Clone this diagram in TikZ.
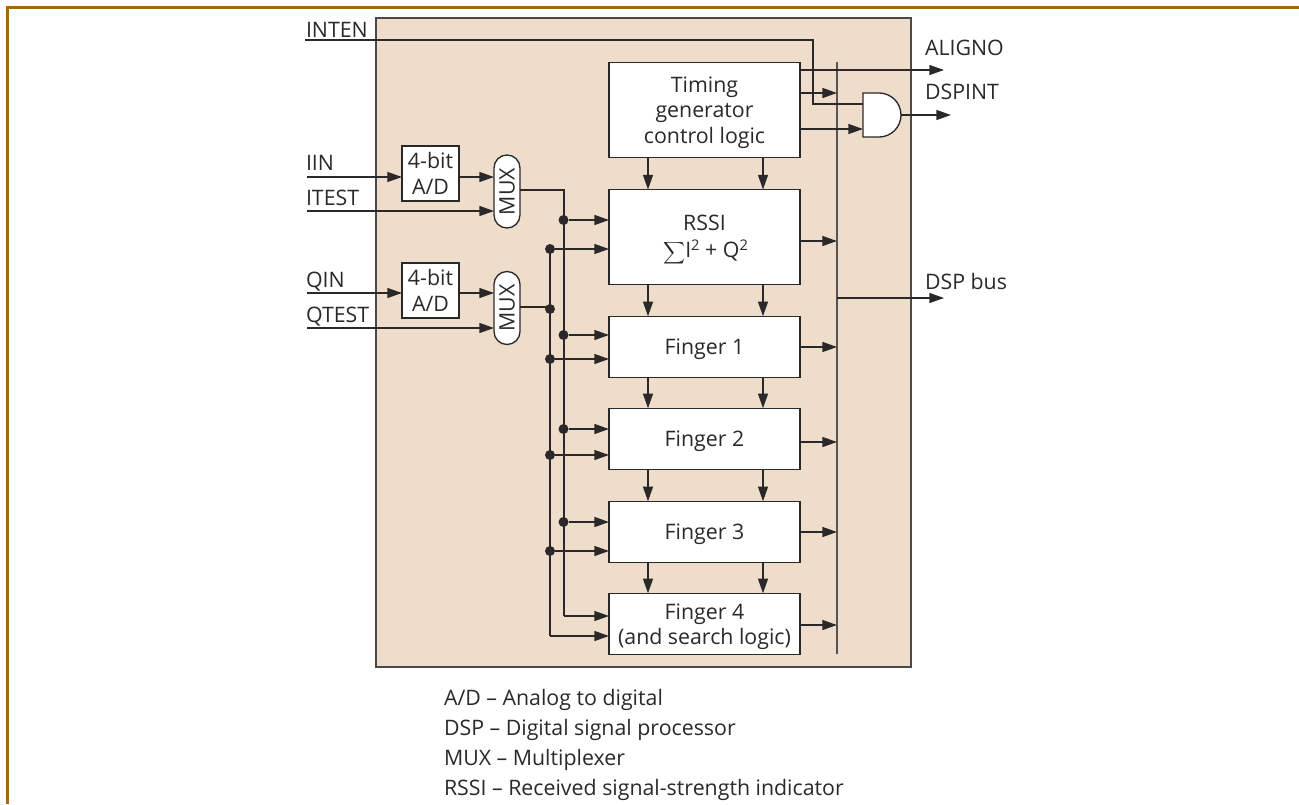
\documentclass[tikz,border=0pt]{standalone}
\usepackage{fontspec}
\setmainfont{Open Sans}
\usetikzlibrary{arrows.meta}
\definecolor{panelfill}{HTML}{EFDDCC}
\definecolor{rulebrown}{HTML}{A9660F}
\definecolor{ink}{HTML}{2B2829}
\newcommand{\supsq}{\raisebox{5pt}{\fontsize{11}{11}\selectfont 2}}
\tikzset{
  x=0.75pt,y=-0.75pt,
  every node/.style={font=\fontsize{16}{18}\selectfont,text=ink,inner sep=0pt,outer sep=0pt},
  wire/.style={draw=ink,line width=1pt},
  arr/.style={wire,-{Triangle[length=11pt,width=7.5pt]},shorten >=0pt},
  block/.style={draw=ink,line width=1pt,fill=white,align=center,minimum width=191*0.75pt},
  blocklabel/.style={align=center,yshift=-1.9pt},
  adc/.style={draw=ink,line width=1pt,fill=white,align=center,minimum width=57*0.75pt,minimum height=55*0.75pt},
  muxbox/.style={draw=ink,line width=1pt,fill=white,minimum width=26*0.75pt,minimum height=73*0.75pt,rounded corners=9.7pt},
  jdot/.style={circle,fill=ink,minimum size=7.5pt},
  sig/.style={anchor=base west},
  legend/.style={anchor=base west},
}
\begin{document}
\begin{tikzpicture}
\useasboundingbox (0,0) rectangle (1299,804);
% frame
\fill[rulebrown] (6,6) rectangle (1299,8.6);
\fill[rulebrown] (6,6) rectangle (8.6,804);
% panel
\draw[draw=ink!85,fill=panelfill,line width=1pt] (376,18) rectangle (911,667);
% blocks
\node[block,minimum height=95*0.75pt,label={[blocklabel]center:{Timing\\[1pt]generator\\[1pt]control logic}}] (tim) at (704.5,110) {};
\node[block,minimum height=95*0.75pt] (rssi) at (704.5,237) {};
\node[anchor=base] at (704.5,230) {RSSI};
\node[anchor=base] at (705.5,257) {\raisebox{-2pt}{\scalebox{1.15}{$\displaystyle\sum$}}I\supsq{} + Q\supsq};
\node[block,minimum height=61.5*0.75pt,label={[blocklabel]center:{Finger 1}}] (f1) at (704.5,347) {};
\node[block,minimum height=61.5*0.75pt,label={[blocklabel]center:{Finger 2}}] (f2) at (704.5,439) {};
\node[block,minimum height=61.5*0.75pt,label={[blocklabel]center:{Finger 3}}] (f3) at (704.5,532) {};
\node[block,minimum height=61.5*0.75pt,label={[blocklabel]center:{Finger 4\\[1pt](and search logic)}}] (f4) at (704.5,624) {};
\node[adc] (ad1) at (430.5,173.5) {4-bit\\[1pt]A/D};
\node[adc] (ad2) at (430.5,290.5) {4-bit\\[1pt]A/D};
\node[muxbox] (mux1) at (507,191.5) {\rotatebox{90}{MUX}};
\node[muxbox] (mux2) at (507,308) {\rotatebox{90}{MUX}};
% bus
\coordinate (bust) at (837,62);
\coordinate (busb) at (837,654);
\draw[draw=ink!80,line width=1.3pt] (bust) -- (busb);
% gate
\draw[draw=ink,line width=1pt,fill=white] (863,93) -- (879,93) arc[start angle=-90,end angle=90,radius=22] -- (863,137) -- cycle;
\coordinate (gatea) at (863,104);
\coordinate (gateb) at (863,129);
\coordinate (gateo) at (901,115);
% signal labels and free ends
\node[sig] at (306,37) {INTEN};
\node[sig] at (925,55) {ALIGNO};
\node[sig] at (925,99) {DSPINT};
\node[sig] at (925,289) {DSP bus};
\node[sig] at (306,170) {IIN};
\node[sig] at (306,205) {ITEST};
\node[sig] at (306,287) {QIN};
\node[sig] at (306,322) {QTEST};
\coordinate (inten) at (305,40);
\coordinate (iin) at (307,177);
\coordinate (itest) at (307,211);
\coordinate (qin) at (307,293);
\coordinate (qtest) at (307,328);
\coordinate (aligno) at (944,70);
\coordinate (dspint) at (951,115);
\coordinate (dspbus) at (944,298);
\coordinate (cola) at (648,0);
\coordinate (colb) at (763,0);
\coordinate (jogx) at (813,0);
% top lines
\draw[wire] (inten) -| (jogx |- gatea) -- (gatea);
\draw[arr] (aligno -| tim.east) -- (aligno);
\draw[arr] (tim.east |- 0,93) -- (bust |- 0,93);
\draw[arr] (gateb -| tim.east) -- (gateb);
\draw[arr] (gateo) -- (dspint);
\draw[arr] (dspbus -| bust) -- (dspbus);
% inputs
\draw[arr] (iin) -- (iin -| ad1.west);
\draw[arr] (qin) -- (qin -| ad2.west);
\draw[arr] (iin -| ad1.east) -- (iin -| mux1.west);
\draw[arr] (qin -| ad2.east) -- (qin -| mux2.west);
\draw[arr] (itest) -- (itest -| mux1.west);
\draw[arr] (qtest) -- (qtest -| mux2.west);
% vertical arrows
\foreach \c in {cola,colb}{
  \draw[arr] (tim.south -| \c) -- (rssi.north -| \c);
  \draw[arr] (rssi.south -| \c) -- (f1.north -| \c);
  \draw[arr] (f1.south -| \c) -- (f2.north -| \c);
  \draw[arr] (f2.south -| \c) -- (f3.north -| \c);
  \draw[arr] (f3.south -| \c) -- (f4.north -| \c);
}
% outputs to bus
\draw[arr] (rssi.east |- 0,241) -- (bust |- 0,241);
\draw[arr] (f1.east |- 0,347) -- (bust |- 0,347);
\draw[arr] (f2.east |- 0,442) -- (bust |- 0,442);
\draw[arr] (f3.east |- 0,532) -- (bust |- 0,532);
\draw[arr] (f4.east |- 0,625) -- (bust |- 0,625);
% distribution lines
\coordinate (ia) at (564,190);
\coordinate (ib) at (564,616);
\coordinate (qa) at (550,249);
\coordinate (qb) at (550,636);
\draw[wire] (mux1.east |- ia) -- (ia) -- (ib);
\draw[arr] (ib) -- (ib -| f4.west);
\draw[wire] (qa) -- (qb);
\draw[arr] (qb) -- (qb -| f4.west);
\draw[wire] (mux2.east |- 0,307) -- (550,307);
\node[jdot] (jq0) at (550,309) {};
\foreach \n/\xx/\yy/\b in {a/563.5/220/rssi,b/550/249/rssi,c/563.5/335/f1,d/550/359/f1,e/563.5/429/f2,f/550/455/f2,g/563.5/522/f3,h/550/551/f3}{
  \node[jdot] (j\n) at (\xx,\yy) {};
  \draw[arr] (j\n) -- (j\n -| \b.west);
}
% legend
\node[legend] at (444,705) {A/D – Analog to digital};
\node[legend] at (444,735) {DSP – Digital signal processor};
\node[legend] at (444,765) {MUX – Multiplexer};
\node[legend] at (444,795) {RSSI – Received signal-strength indicator};
\end{tikzpicture}
\end{document}
